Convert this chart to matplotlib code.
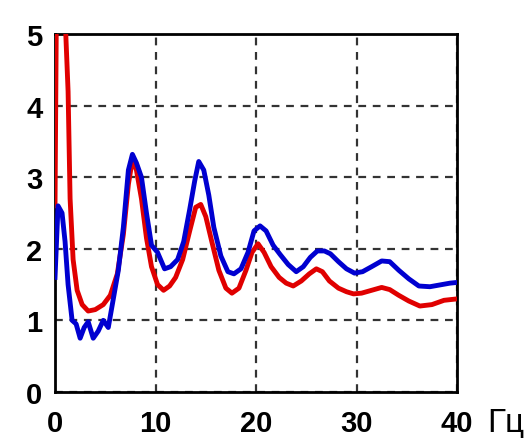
import matplotlib
matplotlib.use('Agg')
import matplotlib.pyplot as plt

# spectra, frequency in Hz
red_x = [0, 0.15, 0.9, 1.3, 1.5, 1.8, 2.2, 2.7, 3.3, 4.0, 4.8, 5.5, 6.2, 6.8, 7.3, 7.7,
         8.1, 8.6, 9.1, 9.6, 10.2, 10.8, 11.4, 12.0, 12.7, 13.4, 14.0, 14.5, 15.0,
         15.6, 16.3, 17.0, 17.6, 18.3, 19.0, 19.6, 20.2, 20.8, 21.5, 22.3, 23.0,
         23.7, 24.5, 25.3, 26.0, 26.6, 27.3, 28.2, 29.0, 29.7, 30.5, 31.5, 32.5,
         33.3, 34.2, 35.2, 36.3, 37.5, 38.7, 40]
red_y = [2.6, 5.6, 5.6, 4.2, 2.7, 1.85, 1.42, 1.22, 1.13, 1.15, 1.22, 1.35, 1.65, 2.2,
         2.9, 3.25, 3.1, 2.7, 2.15, 1.75, 1.5, 1.42, 1.48, 1.6, 1.85, 2.25, 2.58,
         2.62, 2.45, 2.1, 1.7, 1.45, 1.38, 1.45, 1.7, 1.95, 2.07, 1.95, 1.75, 1.6,
         1.52, 1.48, 1.55, 1.65, 1.72, 1.68, 1.55, 1.45, 1.4, 1.37, 1.38, 1.42,
         1.46, 1.43, 1.35, 1.27, 1.2, 1.22, 1.28, 1.30]

blue_x = [0, 0.3, 0.7, 1.0, 1.3, 1.7, 2.1, 2.5, 2.9, 3.3, 3.8, 4.3, 4.8, 5.3,
          5.8, 6.3, 6.8, 7.3, 7.7, 8.1, 8.6, 9.1, 9.6, 10.2, 10.9, 11.5, 12.2,
          12.8, 13.4, 13.9, 14.3, 14.8, 15.3, 15.8, 16.5, 17.2, 17.8, 18.5, 19.2,
          19.8, 20.4, 21.0, 21.7, 22.4, 23.2, 24.0, 24.7, 25.4, 26.1, 26.8, 27.4,
          28.2, 29.0, 29.8, 30.6, 31.5, 32.5, 33.3, 34.2, 35.2, 36.2, 37.3, 38.5,
          39.3, 40]
blue_y = [1.6, 2.6, 2.5, 2.1, 1.5, 1.0, 0.95, 0.75, 0.9, 0.98, 0.75, 0.85, 1.0,
          0.9, 1.3, 1.7, 2.3, 3.1, 3.32, 3.2, 3.0, 2.5, 2.05, 1.95, 1.72, 1.75,
          1.85, 2.1, 2.55, 2.95, 3.22, 3.1, 2.75, 2.3, 1.9, 1.68, 1.65, 1.72, 1.95,
          2.25, 2.32, 2.25, 2.05, 1.92, 1.78, 1.68, 1.75, 1.88, 1.97, 1.97, 1.93,
          1.82, 1.72, 1.66, 1.68, 1.75, 1.83, 1.82, 1.7, 1.58, 1.48, 1.47, 1.5,
          1.52, 1.53]

x_ticks = [0, 10, 20, 30, 40]
y_ticks = [0, 1, 2, 3, 4, 5]

plt.rcParams['font.family'] = ['Liberation Sans', 'DejaVu Sans']

fig = plt.figure(figsize=(5.29, 4.39), dpi=100)
ax = fig.add_axes([0.104, 0.105, 0.76, 0.815])

ax.plot(red_x, red_y, color='#e00000', lw=3.5, solid_joinstyle='round', zorder=3)
ax.plot(blue_x, blue_y, color='#0000d0', lw=3.5, solid_joinstyle='round', zorder=4)

ax.set_xlim(0, 40)
ax.set_ylim(0, 5)
ax.set_xticks(x_ticks)
ax.set_yticks(y_ticks)
ax.tick_params(length=0, labelsize=21, width=0)
ax.tick_params(axis='x', pad=12)
ax.tick_params(axis='y', pad=9)
for lab in ax.get_xticklabels() + ax.get_yticklabels():
    lab.set_fontweight('bold')

ax.grid(True, color='black', linestyle=(0, (3.5, 3)), linewidth=1.6, alpha=0.8)
for s in ax.spines.values():
    s.set_linewidth(2.0)

fig.text(0.921, 0.016, 'Гц', fontsize=24, va='baseline', ha='left')

fig.savefig('out.png', dpi=100, facecolor='white')
